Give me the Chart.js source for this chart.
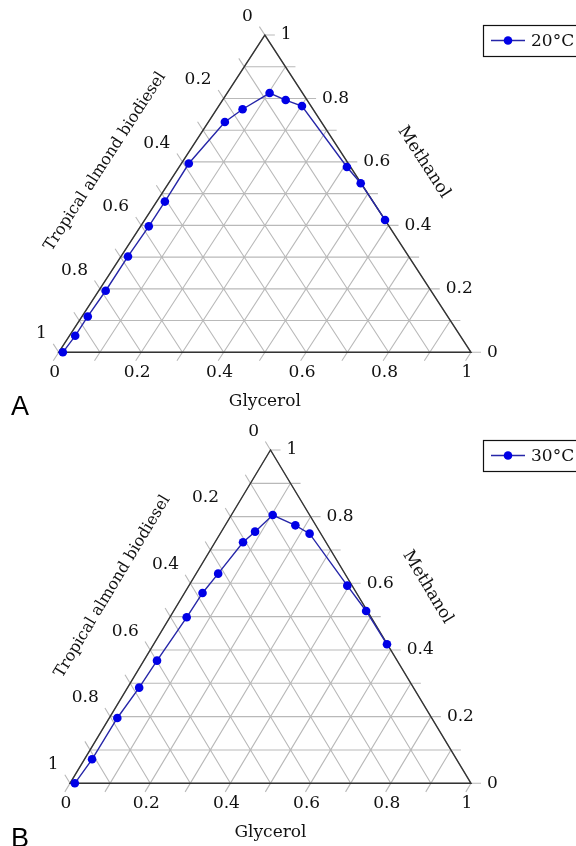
<!DOCTYPE html>
<html>
<head>
<meta charset="utf-8">
<script src="https://cdn.jsdelivr.net/npm/chart.js@4"></script>
<style>
  body { margin: 0; background: #fff; width: 576px; height: 846px; overflow: hidden; position: relative; }
  canvas { position: absolute; left: 0; }
  .tag { position: absolute; left: 11px; font-family: "Liberation Sans", Arial, sans-serif; font-size: 27px; line-height: 27px; color: #000; }
</style>
</head>
<body>
<canvas id="chartA" width="576" height="420" style="top:0"></canvas>
<canvas id="chartB" width="576" height="426" style="top:420px"></canvas>
<div class="tag" style="top:393px">A</div>
<div class="tag" style="top:825px">B</div>
<script>
// ternary data: glycerol + methanol + biodiesel = 1 (biodiesel is the remainder)
const glycerol20 = [0.010, 0.014, 0.014, 0.017, 0.017, 0.020, 0.020, 0.018, 0.040, 0.063, 0.103, 0.153, 0.202, 0.407, 0.466, 0.583];
const methanol20 = [0.000, 0.052, 0.113, 0.194, 0.302, 0.397, 0.475, 0.595, 0.726, 0.766, 0.817, 0.795, 0.776, 0.584, 0.533, 0.417];

const glycerol30 = [0.012, 0.019, 0.020, 0.029, 0.033, 0.042, 0.045, 0.055, 0.070, 0.084, 0.103, 0.175, 0.223, 0.395, 0.480, 0.582];
const methanol30 = [0.000, 0.072, 0.196, 0.287, 0.368, 0.498, 0.571, 0.629, 0.723, 0.755, 0.805, 0.774, 0.749, 0.593, 0.517, 0.417];

const tickValues = [0, 0.2, 0.4, 0.6, 0.8, 1];
const tickLabels = ['0', '0.2', '0.4', '0.6', '0.8', '1'];
const gridValues = [0, 0.1, 0.2, 0.3, 0.4, 0.5, 0.6, 0.7, 0.8, 0.9, 1];

const bottomTitle = 'Glycerol';
const rightTitle = 'Methanol';
const leftTitle = 'Tropical almond biodiesel';

const FONT = '17px "DejaVu Serif", serif';
const TICK_LEN = 10;

// glycerol -> bottom right corner, methanol -> top, biodiesel -> bottom left
function toXY(a, m) {
	return { x: a + m / 2, y: m };
}

const ternaryPlugin = {
	id: 'ternary',
	beforeDatasetsDraw(chart) {
		const { ctx, scales: { x, y } } = chart;
		const px = (a, m) => {
			const p = toXY(a, m);
			return { x: x.getPixelForValue(p.x), y: y.getPixelForValue(p.y) };
		};
		const unit = (p, q) => {
			const dx = q.x - p.x, dy = q.y - p.y, l = Math.hypot(dx, dy);
			return { x: dx / l, y: dy / l };
		};
		const BL = px(0, 0), BR = px(1, 0), T = px(0, 1);
		const dBottom = unit(T, BL);
		const dLeft = unit(BR, T);

		ctx.save();
		ctx.strokeStyle = '#b9b9b9';
		ctx.lineWidth = 1.1;
		ctx.beginPath();
		gridValues.forEach(v => {
			// methanol = v, horizontal, tick to the right
			let p = px(0, v), q = px(1 - v, v);
			ctx.moveTo(p.x, p.y);
			ctx.lineTo(q.x + TICK_LEN, q.y);
			// glycerol = v, tick down-left
			p = px(v, 1 - v); q = px(v, 0);
			ctx.moveTo(p.x, p.y);
			ctx.lineTo(q.x + dBottom.x * TICK_LEN, q.y + dBottom.y * TICK_LEN);
			// biodiesel = v, tick up-left
			p = px(1 - v, 0); q = px(0, 1 - v);
			ctx.moveTo(p.x, p.y);
			ctx.lineTo(q.x + dLeft.x * TICK_LEN, q.y + dLeft.y * TICK_LEN);
		});
		ctx.stroke();

		ctx.strokeStyle = '#333';
		ctx.lineWidth = 1.4;
		ctx.beginPath();
		ctx.moveTo(BL.x, BL.y);
		ctx.lineTo(BR.x, BR.y);
		ctx.lineTo(T.x, T.y);
		ctx.closePath();
		ctx.stroke();

		ctx.fillStyle = '#111';
		ctx.font = FONT;
		ctx.textBaseline = 'middle';
		tickValues.forEach((v, i) => {
			let q = px(v, 0);
			ctx.textAlign = 'center';
			ctx.fillText(tickLabels[i], q.x - 4, q.y + 20);
			q = px(1 - v, v);
			ctx.textAlign = 'left';
			ctx.fillText(tickLabels[i], q.x + 16, q.y);
			q = px(0, 1 - v);
			ctx.textAlign = 'right';
			ctx.fillText(tickLabels[i], q.x + dLeft.x * 22, q.y + dLeft.y * 22);
		});

		// axis titles
		ctx.textAlign = 'center';
		ctx.textBaseline = 'alphabetic';
		ctx.fillText(bottomTitle, (BL.x + BR.x) / 2, BL.y + 54);

		const rDir = unit(T, BR);
		const rAng = Math.atan2(rDir.y, rDir.x);
		const rMid = {
			x: (T.x + BR.x) / 2 + rDir.y * 64 + rDir.x * 4,
			y: (T.y + BR.y) / 2 - rDir.x * 64 + rDir.y * 4
		};
		ctx.save();
		ctx.translate(rMid.x, rMid.y);
		ctx.rotate(rAng);
		ctx.textBaseline = 'middle';
		ctx.fillText(rightTitle, 0, 0);
		ctx.restore();

		const lDir = unit(BL, T);
		const lAng = Math.atan2(lDir.y, lDir.x);
		const lMid = {
			x: (T.x + BL.x) / 2 + lDir.y * 65 - lDir.x * 4,
			y: (T.y + BL.y) / 2 - lDir.x * 65 - lDir.y * 4
		};
		ctx.save();
		ctx.translate(lMid.x, lMid.y);
		ctx.rotate(lAng);
		ctx.textBaseline = 'middle';
		ctx.font = '16px "DejaVu Serif", serif';
		ctx.fillText(leftTitle, 0, 0);
		ctx.restore();
		ctx.restore();
	},
	afterDraw(chart) {
		const { ctx, chartArea } = chart;
		const ds = chart.data.datasets[0];
		const bx = chartArea.right + 12, by = chartArea.top - 10, bh = 31;
		const cy = by + bh / 2;
		ctx.save();
		ctx.strokeStyle = '#111';
		ctx.lineWidth = 1.2;
		ctx.strokeRect(Math.round(bx) + 0.5, Math.round(by) + 0.5, 200, bh);
		ctx.strokeStyle = ds.borderColor;
		ctx.lineWidth = ds.borderWidth;
		ctx.beginPath();
		ctx.moveTo(bx + 8, cy);
		ctx.lineTo(bx + 42, cy);
		ctx.stroke();
		ctx.fillStyle = ds.backgroundColor;
		ctx.beginPath();
		ctx.arc(bx + 25, cy, ds.pointRadius, 0, Math.PI * 2);
		ctx.fill();
		ctx.fillStyle = '#111';
		ctx.font = FONT;
		ctx.textAlign = 'left';
		ctx.textBaseline = 'middle';
		ctx.fillText(ds.label, bx + 48, cy + 1);
		ctx.restore();
	}
};

function makeChart(id, label, glycerol, methanol, padding) {
	const data = glycerol.map((a, i) => toXY(a, methanol[i]));
	return new Chart(document.getElementById(id), {
		type: 'scatter',
		data: {
			datasets: [{
				label: label,
				data: data,
				showLine: true,
				borderColor: '#2626a8',
				backgroundColor: '#0000e6',
				borderWidth: 1.4,
				pointRadius: 4.3,
				pointBorderWidth: 0,
				pointBackgroundColor: '#0000e6',
				clip: false
			}]
		},
		options: {
			responsive: false,
			animation: false,
			layout: { padding: padding },
			scales: {
				x: { type: 'linear', min: 0, max: 1, display: false },
				y: { type: 'linear', min: 0, max: 1, display: false }
			},
			plugins: {
				legend: { display: false },
				tooltip: { enabled: false }
			}
		},
		plugins: [ternaryPlugin]
	});
}

makeChart('chartA', '20°C', glycerol20, methanol20, { left: 58.7, right: 105, top: 35, bottom: 67.7 });
makeChart('chartB', '30°C', glycerol30, methanol30, { left: 70, right: 105, top: 30, bottom: 62.7 });
</script>
</body>
</html>
